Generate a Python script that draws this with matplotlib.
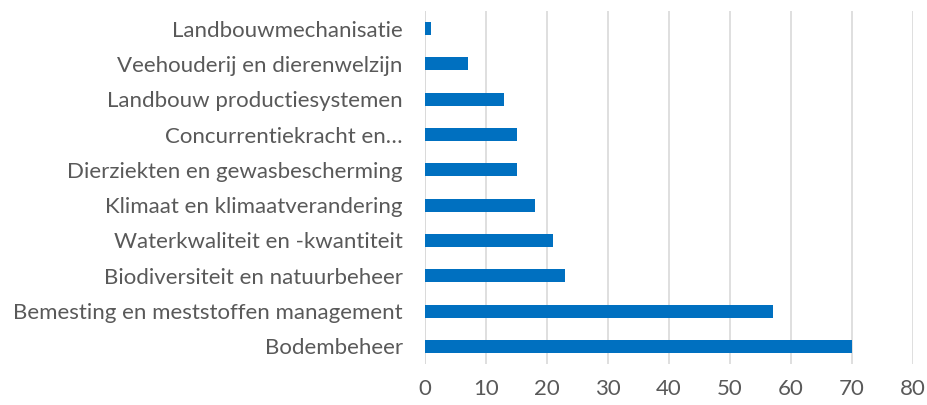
import matplotlib.pyplot as plt

categories = [
    "Landbouwmechanisatie",
    "Veehouderij en dierenwelzijn",
    "Landbouw productiesystemen",
    "Concurrentiekracht en…",
    "Dierziekten en gewasbescherming",
    "Klimaat en klimaatverandering",
    "Waterkwaliteit en -kwantiteit",
    "Biodiversiteit en natuurbeheer",
    "Bemesting en meststoffen management",
    "Bodembeheer",
]
values = [1, 7, 13, 15, 15, 18, 21, 23, 57, 70]
xticks = [0, 10, 20, 30, 40, 50, 60, 70, 80]

plt.rcParams["font.family"] = ["Lato", "DejaVu Sans"]

fig = plt.figure(figsize=(9.28, 4.05), dpi=100)
ax = fig.add_axes([0.458, 0.101, 0.526, 0.872])

pos = list(range(len(categories)))
ax.barh(pos, values, height=0.37, color="#0070C0", zorder=3)

ax.set_ylim(len(categories) - 0.5, -0.5)
ax.set_xlim(0, 80)
ax.set_xticks(xticks)
ax.set_yticks(pos)
ax.set_yticklabels(categories)
ax.grid(axis="x", color="#d9d9d9", linewidth=1.2, zorder=0)
for s in ax.spines.values():
    s.set_visible(False)
ax.axvline(0, color="#d9d9d9", linewidth=1.2, zorder=1)
ax.tick_params(axis="both", length=0, colors="#595959", labelsize=16)
ax.tick_params(axis="y", pad=16)
ax.tick_params(axis="x", pad=11)

fig.savefig("out.png", dpi=100)
